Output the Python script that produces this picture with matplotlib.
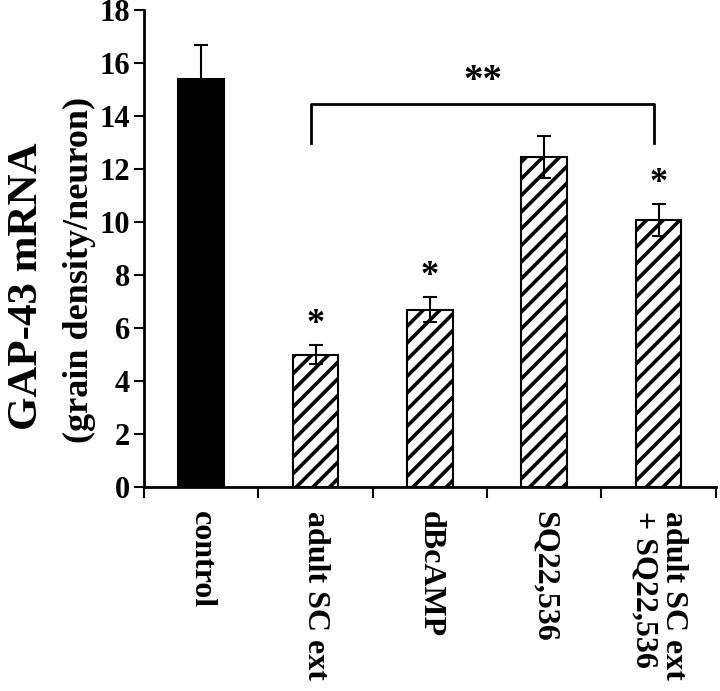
import numpy as np
import matplotlib.pyplot as plt

plt.rcParams['font.family'] = 'Liberation Serif'
plt.rcParams['font.weight'] = 'bold'
plt.rcParams['hatch.linewidth'] = 2.6

# data
groups = ['control', 'adult SC ext', 'dBcAMP', 'SQ22,536', 'adult SC ext\n+ SQ22,536']
means = [15.4, 5.0, 6.7, 12.45, 10.07]
errs = [1.27, 0.36, 0.46, 0.8, 0.6]
signif = [False, True, True, False, True]

fig = plt.figure(figsize=(7.2, 6.91), dpi=100)
ax = fig.add_axes([0.2, 0.295, 0.794, 0.6905])

x = np.arange(len(groups))
ax.bar(x[0], means[0], width=0.4, color='black', edgecolor='black', linewidth=1.5)
ax.bar(x[1:], means[1:], width=0.4, color='white', edgecolor='black',
       linewidth=1.5, hatch='//')
ax.errorbar(x, means, yerr=errs, fmt='none', ecolor='black', elinewidth=1.5,
            capsize=5, capthick=1.5, zorder=5)

for i in range(len(groups)):
    if signif[i]:
        ax.text(x[i], means[i] + errs[i] + 0.15, '*', ha='center', va='bottom',
                fontsize=26)

# bracket between adult SC ext and combination
bx0, bx1 = x[1] - 0.04, x[4] - 0.04
ax.plot([bx0, bx0, bx1, bx1], [13.0, 14.45, 14.45, 13.0], color='black', lw=2)
ax.text((bx0 + bx1) / 2, 14.6, '**', ha='center', va='bottom', fontsize=28)

ax.set_xlim(-0.5, 4.5)
ax.set_ylim(0, 18)
ax.set_yticks(np.arange(0, 19, 2))
ax.set_xticks(np.arange(-0.5, 5, 1))
ax.set_xticklabels([])
ax.tick_params(axis='y', labelsize=22, width=1.5, length=7, pad=3)
ax.tick_params(axis='x', width=1.5, length=8)
for i, g in enumerate(groups):
    ax.text(x[i], -0.9, g, rotation=270, ha='center', va='top',
            multialignment='left', fontsize=23, linespacing=1.0)

ax.spines['top'].set_visible(False)
ax.spines['right'].set_visible(False)
ax.spines['left'].set_linewidth(2)
ax.spines['bottom'].set_linewidth(2)

# y label: two lines of different size
ax.text(-0.205, 0.12, 'GAP-43 mRNA', rotation=90, ha='center', va='bottom',
        fontsize=31, transform=ax.transAxes)
ax.text(-0.113, 0.092, '(grain density/neuron)', rotation=90, ha='center',
        va='bottom', fontsize=26, transform=ax.transAxes)

fig.savefig('out.png', dpi=100)
